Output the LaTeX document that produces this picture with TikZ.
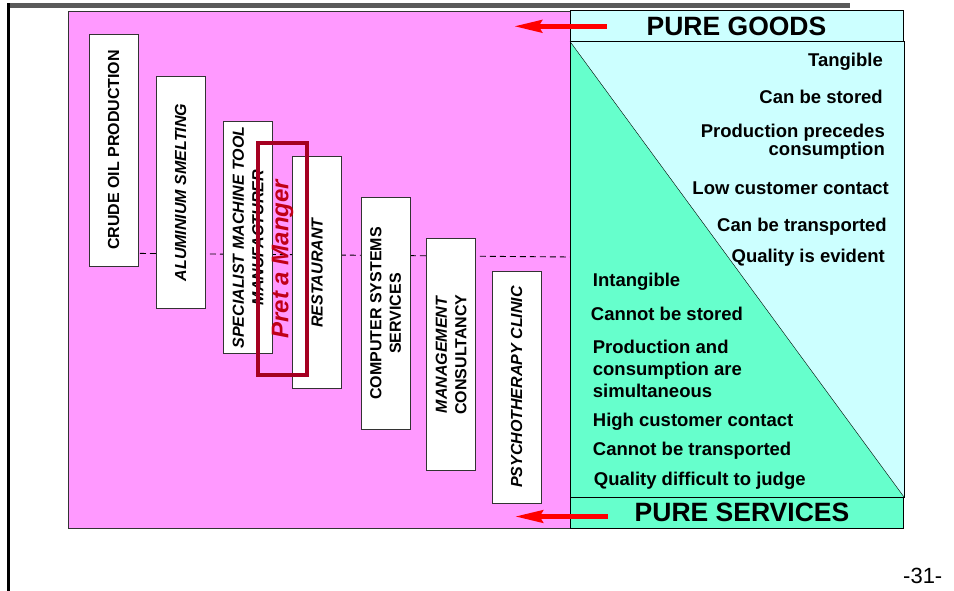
\documentclass[tikz,border=0pt]{standalone}
\usepackage{fontspec}
\setmainfont{Liberation Sans}
\usetikzlibrary{arrows.meta}

\definecolor{spectrumpink}{HTML}{FF99FF}
\definecolor{goodscyan}{HTML}{CCFFFF}
\definecolor{servicegreen}{HTML}{66FFCC}
\definecolor{pretred}{HTML}{A50021}
\definecolor{slidegray}{HTML}{5A5A5A}

\begin{document}
\begin{tikzpicture}[x=1pt, y=-1pt,
		bar/.style={draw=black!80, fill=white, line width=0.8pt, rotate=90, inner sep=0pt, minimum width=232pt, minimum height=49pt, align=center, font=\fontsize{16}{19.5}\selectfont\bfseries},
		pointer/.style={-{Stealth[length=28pt, width=12pt, inset=3pt]}, red, line width=5.5pt},
		trait/.style={inner sep=0pt, font=\fontsize{18.5}{22}\selectfont\bfseries},
		pure/.style={draw=black, line width=1pt, inner sep=0pt, minimum width=333pt, minimum height=31pt, font=\fontsize{26.5}{30}\selectfont\bfseries}]
	\useasboundingbox (0,0) rectangle (954,591);
	% slide frame
	\fill[slidegray] (8,3.5) rectangle (850,8);
	\draw[line width=2.5pt] (8.5,3.5) -- (8.5,591);
	% process types
	\draw[fill=spectrumpink, draw=black!80] (68,11) rectangle (570,528);
	\draw[line width=0.9pt, dash pattern=on 6pt off 4pt] (90,253) -- (570,257);
	\node[bar] (crude) at (113.5,150) {CRUDE OIL PRODUCTION};
	\node[bar] (aluminium) at (180.5,192.5) {\textit{ALUMINIUM SMELTING}};
	\node[bar] (machine) at (248,237.5) {\textit{SPECIALIST MACHINE TOOL}\\\textit{MANUFACTURER}};
	\node[bar] (restaurant) at (317,272.5) {\textit{RESTAURANT}};
	\node[bar] (computer) at (385.5,313.5) {COMPUTER SYSTEMS\\SERVICES};
	\node[bar] (consultancy) at (451,354.5) {\textit{MANAGEMENT}\\CONSULTANCY};
	\node[bar] (clinic) at (516.5,387) {\textit{PSYCHOTHERAPY CLINIC}};
	\node[draw=pretred, line width=3.5pt, rotate=90, inner sep=0pt, minimum width=232pt, minimum height=49pt, text=pretred!70!red, font=\fontsize{24}{28}\selectfont\bfseries\itshape] (pret) at (282.5,259) {Pret a Manger};
	% goods / services
	\fill[goodscyan] (570,41.5) rectangle (904,497);
	\fill[servicegreen] (570,41.5) -- (904,497) -- (570,497) -- cycle;
	\draw (570,41.5) -- (904,497);
	\draw[line width=1pt] (570,41.5) rectangle (904,497);
	\node[trait, anchor=base east] (tangible) at (883,66.7) {Tangible};
	\node[trait, anchor=base east] (stored) at (883,103.3) {Can be stored};
	\node[trait, anchor=base east, align=right, font=\fontsize{18.5}{18}\selectfont\bfseries] (precedes) at (885,155.7) {Production precedes\\consumption};
	\node[trait, anchor=base east] (lowcontact) at (889,194.3) {Low customer contact};
	\node[trait, anchor=base east] (transported) at (887,231) {Can be transported};
	\node[trait, anchor=base east] (evident) at (885,262.3) {Quality is evident};
	\node[trait, anchor=base west] (intangible) at (592.7,286.7) {Intangible};
	\node[trait, anchor=base west] (notstored) at (590.7,320.7) {Cannot be stored};
	\node[trait, anchor=base west, align=left] (simultaneous) at (592.7,397.7) {Production and\\consumption are\\simultaneous};
	\node[trait, anchor=base west] (highcontact) at (592.7,426) {High customer contact};
	\node[trait, anchor=base west] (nottransported) at (592.7,455.7) {Cannot be transported};
	\node[trait, anchor=base west] (difficult) at (593.7,485) {Quality difficult to judge};
	\node[pure, fill=goodscyan] (goods) at (736.5,26.3) {PURE GOODS};
	\node[pure, fill=servicegreen] (services) at (736.5,512.5) {\hspace*{11pt}PURE SERVICES};
	\coordinate (goodstip) at ([xshift=-56pt]goods.west);
	\coordinate (servicestip) at ([xshift=-55pt, yshift=-4pt]services.west);
	\draw[pointer] ([xshift=37pt]goods.west) -- (goodstip);
	\draw[pointer] ([xshift=38pt, yshift=-4pt]services.west) -- (servicestip);
	\node[anchor=base west, inner sep=0pt, font=\fontsize{22}{26}\selectfont] (page) at (903,583.3) {-31-};
\end{tikzpicture}
\end{document}
